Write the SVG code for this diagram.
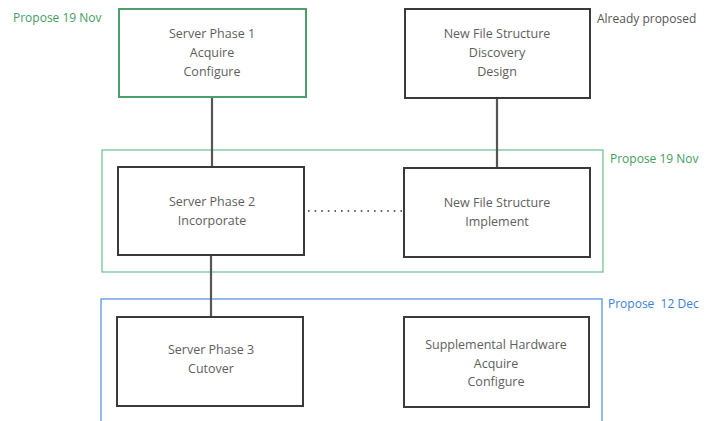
<svg xmlns="http://www.w3.org/2000/svg" width="711" height="421" viewBox="0 0 711 421">
  <style>
    .bg { fill: #ffffff; }
    .node rect { fill: #ffffff; stroke: #3a3a3a; stroke-width: 2; }
    .node.green rect { stroke: #4aa068; }
    .node text { font-family: "Open Sans", "Liberation Sans", sans-serif; font-size: 12.5px; fill: #5e5e5e; text-anchor: middle; }
    .group { fill: none; stroke-width: 1.2; }
    .group.green { stroke: #6cc08f; }
    .group.blue { stroke: #4a8ee0; }
    .tag { font-family: "Open Sans", "Liberation Sans", sans-serif; font-size: 12px; }
    .tag.green { fill: #3f9d5f; }
    .tag.blue { fill: #3d7fd4; }
    .tag.grey { fill: #555555; }
    .link { stroke: #555555; stroke-width: 2.2; fill: none; }
    .dotted { stroke: #333333; stroke-width: 1.6; stroke-dasharray: 1.6 5; fill: none; }
  </style>
  <rect class="bg" x="0" y="0" width="711" height="421"/>

  <!-- phase groupings -->
  <g id="group-19nov">
    <rect class="group green" x="102" y="150" width="501" height="122"/>
    <text class="tag green" x="610" y="163">Propose 19 Nov</text>
  </g>
  <g id="group-12dec">
    <rect class="group blue" x="101" y="299" width="501" height="130"/>
    <text class="tag blue" x="608" y="308">Propose&#160; 12 Dec</text>
  </g>
  <text class="tag green" x="13" y="22">Propose 19 Nov</text>
  <text class="tag grey" x="597" y="23">Already proposed</text>

  <!-- connectors -->
  <g id="connectors">
    <line class="link" x1="212" y1="97" x2="212" y2="167"/>
    <line class="link" x1="497" y1="98" x2="497" y2="168"/>
    <line class="link" x1="211" y1="255" x2="211" y2="317"/>
    <line class="dotted" x1="308" y1="211" x2="402" y2="211"/>
  </g>

  <g id="server-phase-1" class="node green">
    <rect x="119" y="9" width="187" height="88"/>
    <text x="212" y="38">Server Phase 1</text>
    <text x="212" y="57">Acquire</text>
    <text x="212" y="76">Configure</text>
  </g>
  <g id="nfs-discovery" class="node">
    <rect x="405" y="9" width="185" height="89"/>
    <text x="497" y="38">New File Structure</text>
    <text x="497" y="57">Discovery</text>
    <text x="497" y="76">Design</text>
  </g>
  <g id="server-phase-2" class="node">
    <rect x="118" y="167" width="186" height="88"/>
    <text x="212" y="206">Server Phase 2</text>
    <text x="212" y="225">Incorporate</text>
  </g>
  <g id="nfs-implement" class="node">
    <rect x="404" y="168" width="186" height="89"/>
    <text x="497" y="207">New File Structure</text>
    <text x="497" y="226">Implement</text>
  </g>
  <g id="server-phase-3" class="node">
    <rect x="117" y="317" width="186" height="89"/>
    <text x="211" y="354">Server Phase 3</text>
    <text x="211" y="373">Cutover</text>
  </g>
  <g id="supplemental-hardware" class="node">
    <rect x="404" y="317" width="185" height="90"/>
    <text x="496" y="349">Supplemental Hardware</text>
    <text x="496" y="368">Acquire</text>
    <text x="496" y="386">Configure</text>
  </g>
</svg>
